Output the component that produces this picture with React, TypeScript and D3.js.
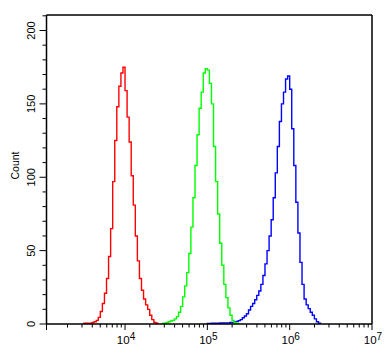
import React from "react";
import * as d3 from "d3";

// Histogram channels: log10 start of first bin, bin width in decades, counts per bin
const binDecades = 0.025;

const redStart = 3.5;
const redCounts = [0.5, 0.5, 0.5, 0.5, 1, 1.5, 2.5, 4.5, 8.5, 14, 21, 31, 46, 65, 97, 125, 148, 162, 171, 175, 159, 141, 124, 101, 81, 60, 43, 31, 23, 17, 13, 10, 6, 3, 1, 0.5];

const greenStart = 4.45;
const greenCounts = [0.3, 0.5, 1, 1.5, 2, 2.5, 3.5, 5, 8, 12, 18.5, 26, 35, 48, 66, 86, 108, 129, 147, 158, 171, 174, 173, 164, 150, 121, 97, 75, 55, 40, 27, 18, 11, 6, 2.5, 1, 0.5];

const blueStart = 5.0;
const blueCounts = [0.3, 0.3, 0.5, 0.5, 0.5, 0.5, 0.7, 0.7, 0.7, 0.7, 0.7, 1, 1, 1.4, 1.8, 2.3, 3, 4.3, 5.5, 7, 9.5, 12, 14, 16.5, 19.5, 22.5, 27, 33, 41, 50, 60, 71, 86, 103, 121, 138, 150, 158, 167, 169, 160, 133, 108, 83, 62, 42, 27, 17, 13, 10.5, 8, 6, 3.5, 1.5, 0.5];

const xDecades = [4, 5, 6, 7];
const yTicks = [0, 50, 100, 150, 200];
const yMinorStep = 10;
const yAxisLabel = "Count";

const W = 390;
const H = 356;
const left = 46.5;
const right = 372;
const top = 15;
const bottom = 324;

export default function App() {
  const x = d3.scaleLog().domain([Math.pow(10, 3.046), 1e7]).range([left, right]);
  const y = d3.scaleLinear().domain([0, 200]).range([bottom, 30.5]);

  const makePath = (start: number, counts: number[]) => {
    const pts: [number, number][] = [];
    pts.push([start, 0]);
    counts.forEach((c, k) => {
      pts.push([start + k * binDecades, c]);
      pts.push([start + (k + 1) * binDecades, c]);
    });
    pts.push([start + counts.length * binDecades, 0]);
    const line = d3
      .line<[number, number]>()
      .x((d) => x(Math.pow(10, d[0])))
      .y((d) => y(d[1]));
    return line(pts) || "";
  };

  const [d0, d1] = x.domain();
  const minorX: number[] = [];
  for (let e = 3; e < 7; e++) {
    for (let m = 2; m <= 9; m++) {
      const v = m * Math.pow(10, e);
      if (v > d0 && v < d1) minorX.push(v);
    }
  }
  const minorY: number[] = d3.range(0, 211, yMinorStep).filter((v) => v % 50 !== 0);

  const font = "Liberation Sans, Arial, sans-serif";

  return (
    <svg
      width={W}
      height={H}
      style={{ position: "absolute", left: 0, top: 0, background: "#fff" }}
      fontFamily={font}
    >
      <rect x={0} y={0} width={W} height={H} fill="#fff" />
      <defs>
        <clipPath id="plot">
          <rect x={left} y={top} width={right - left} height={bottom - top} />
        </clipPath>
      </defs>
      <g clipPath="url(#plot)" fill="none" strokeWidth={1.4}>
        <path d={makePath(blueStart, blueCounts)} stroke="#0000ff" />
        <path d={makePath(greenStart, greenCounts)} stroke="#00ff00" />
        <path d={makePath(redStart, redCounts)} stroke="#ff0000" />
      </g>
      <g stroke="#000" strokeWidth={1.5} fill="none">
        <line x1={left} x2={right} y1={top} y2={top} />
        <line x1={right} x2={right} y1={top} y2={bottom} />
        <line x1={left} x2={left} y1={top} y2={bottom} />
        <line x1={left} x2={right} y1={bottom} y2={bottom} />
      </g>
      <g stroke="#000" strokeWidth={1}>
        {yTicks.map((t) => (
          <line key={"ym" + t} x1={left - 7} x2={left} y1={y(t)} y2={y(t)} />
        ))}
        {minorY.map((t) => (
          <line key={"yn" + t} x1={left - 4} x2={left} y1={y(t)} y2={y(t)} />
        ))}
      </g>
      {yTicks.map((t) => (
        <text
          key={"yl" + t}
          transform={`translate(35,${y(t)}) rotate(-90)`}
          textAnchor="middle"
          fontSize={11}
          fill="#000"
        >
          {t}
        </text>
      ))}
      <text
        transform={`translate(19,${(top + bottom) / 2 - 4}) rotate(-90)`}
        textAnchor="middle"
        fontSize={10.5}
        fill="#000"
      >
        {yAxisLabel}
      </text>
      <g stroke="#000" strokeWidth={1}>
        <line x1={left} x2={left} y1={bottom} y2={bottom + 6} />
        {xDecades.map((e) => (
          <line key={"xm" + e} x1={x(Math.pow(10, e))} x2={x(Math.pow(10, e))} y1={bottom} y2={bottom + 6} />
        ))}
        {minorX.map((v) => (
          <line key={"xn" + v} x1={x(v)} x2={x(v)} y1={bottom} y2={bottom + 3.5} />
        ))}
      </g>
      {xDecades.map((e) => (
        <text
          key={"xl" + e}
          x={x(Math.pow(10, e)) + 1}
          y={344.3}
          textAnchor="middle"
          fontSize={11.5}
          fill="#000"
        >
          10
          <tspan fontSize={10} dy={-4}>
            {e}
          </tspan>
        </text>
      ))}
    </svg>
  );
}
